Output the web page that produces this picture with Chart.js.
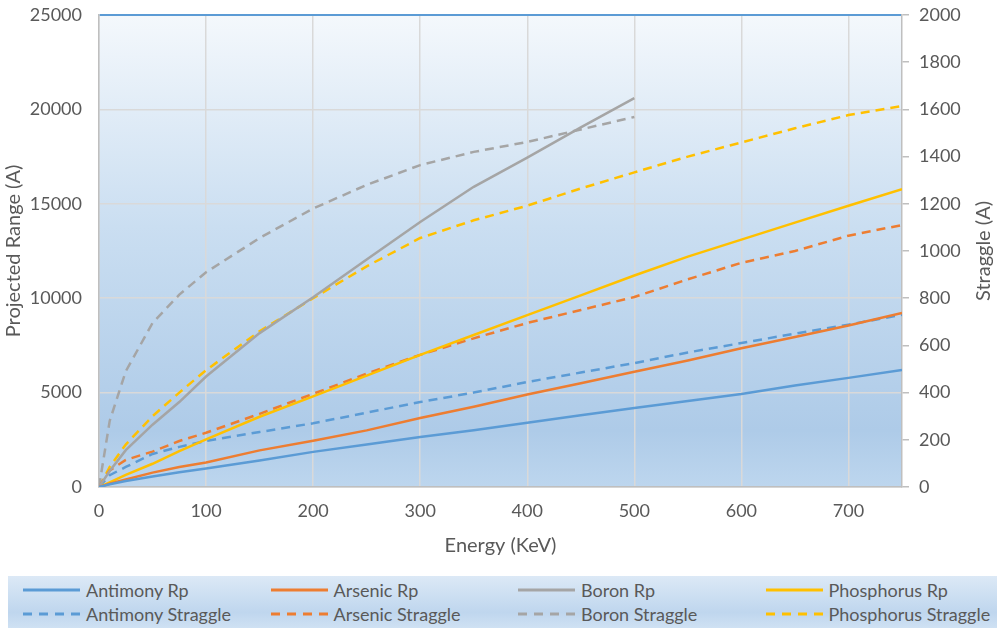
<!DOCTYPE html>
<html>
<head>
<meta charset="utf-8">
<script src="https://cdn.jsdelivr.net/npm/chart.js@4"></script>
<style>
  body { margin: 0; background: #fff; font-family: Lato, sans-serif; }
  #wrap { position: relative; width: 997px; height: 628px; }
  #chart { position: absolute; left: 0; top: 0; }
  #rightTitle {
    position: absolute; left: 982px; top: 251px; white-space: nowrap;
    transform: translate(-50%, -50%) rotate(-90deg);
    color: #595959; font-size: 20px;
  }
  #legend {
    position: absolute; left: 8px; top: 576px; width: 989px; height: 52px;
    background: linear-gradient(#dce9f6, #bfd6ee 70%, #cfe1f3);
    display: grid; grid-template-columns: repeat(4, 247.5px); grid-template-rows: 24px 24px;
    padding-top: 2px; box-sizing: border-box;
  }
  .item { display: flex; align-items: center; color: #595959; font-size: 18px; }
  .item svg { margin-left: 15px; margin-right: 6px; }
</style>
</head>
<body>
<div id="wrap">
  <canvas id="chart" width="997" height="570"></canvas>
  <div id="rightTitle">Straggle (A)</div>
  <div id="legend"></div>
</div>
<script>
// Data Setup
const energy = [0, 10, 25, 50, 75, 100, 150, 200, 250, 300, 350, 400, 450, 500, 550, 600, 650, 700, 750];
const boronEnergy = [0, 10, 25, 50, 75, 100, 150, 200, 250, 300, 350, 400, 450, 500];

const antimonyRp = [0, 150, 320, 560, 780, 980, 1400, 1860, 2250, 2650, 3000, 3400, 3800, 4180, 4550, 4930, 5380, 5780, 6200];
const arsenicRp = [0, 170, 400, 760, 1060, 1300, 1940, 2450, 3000, 3650, 4250, 4900, 5500, 6100, 6700, 7350, 7950, 8550, 9220];
const boronRp = [0, 850, 1950, 3300, 4500, 5850, 8150, 10050, 12050, 14040, 15900, 17450, 19050, 20600];
const phosphorusRp = [0, 250, 640, 1230, 1900, 2520, 3720, 4800, 5900, 7000, 8050, 9100, 10150, 11200, 12200, 13100, 14000, 14900, 15780];

const antimonyStraggle = [0, 50, 85, 140, 170, 195, 233, 270, 315, 360, 400, 445, 485, 525, 570, 610, 650, 688, 730];
const arsenicStraggle = [0, 70, 115, 150, 195, 230, 310, 395, 480, 560, 630, 695, 750, 805, 880, 950, 1000, 1065, 1110];
const boronStraggle = [0, 280, 490, 695, 815, 910, 1055, 1180, 1280, 1364, 1420, 1462, 1515, 1568];
const phosphorusStraggle = [0, 85, 180, 300, 400, 495, 660, 800, 935, 1055, 1130, 1192, 1265, 1333, 1400, 1460, 1520, 1576, 1614];

const energyTicks = [0, 100, 200, 300, 400, 500, 600, 700];
const rangeTicks = [0, 5000, 10000, 15000, 20000, 25000];
const straggleTicks = [0, 200, 400, 600, 800, 1000, 1200, 1400, 1600, 1800, 2000];

const colors = { antimony: '#5b9bd5', arsenic: '#ed7d31', boron: '#a5a5a5', phosphorus: '#ffc000' };
const dash = [9, 6];

function pts(xs, ys) { return xs.map((x, i) => ({ x: x, y: ys[i] })); }
function series(label, xs, ys, color, axis, dashed) {
	return {
		label: label, data: pts(xs, ys), yAxisID: axis,
		borderColor: color, backgroundColor: color, borderWidth: 2.5,
		borderDash: dashed ? dash : [], showLine: true, pointRadius: 0, tension: 0
	};
}

const datasets = [
	series('Antimony Rp', energy, antimonyRp, colors.antimony, 'y', false),
	series('Arsenic Rp', energy, arsenicRp, colors.arsenic, 'y', false),
	series('Boron Rp', boronEnergy, boronRp, colors.boron, 'y', false),
	series('Phosphorus Rp', energy, phosphorusRp, colors.phosphorus, 'y', false),
	series('Antimony Straggle', energy, antimonyStraggle, colors.antimony, 'y2', true),
	series('Arsenic Straggle', energy, arsenicStraggle, colors.arsenic, 'y2', true),
	series('Boron Straggle', boronEnergy, boronStraggle, colors.boron, 'y2', true),
	series('Phosphorus Straggle', energy, phosphorusStraggle, colors.phosphorus, 'y2', true)
];

// plot area gradient
const plotBg = {
	id: 'plotBg',
	beforeDraw(chart) {
		const { ctx, chartArea: a } = chart;
		const g = ctx.createLinearGradient(0, a.top, 0, a.bottom);
		g.addColorStop(0, '#f4f8fc');
		g.addColorStop(0.45, '#cadef1');
		g.addColorStop(0.88, '#aecbe8');
		g.addColorStop(1, '#bdd6ee');
		ctx.save();
		ctx.fillStyle = g;
		ctx.fillRect(a.left, a.top, a.right - a.left, a.bottom - a.top);
		ctx.restore();
	}
};

const tickFont = { family: 'Lato', size: 18 };
const titleFont = { family: 'Lato', size: 20 };
const textColor = '#595959';
const plain = v => String(v);
const fixTicks = list => s => { s.ticks = list.map(v => ({ value: v })); };
const fitY = w => s => { s.width = w; s.paddingTop = 0; s.paddingBottom = 0; };

const ctx = document.getElementById('chart').getContext('2d');
const chart = new Chart(ctx, {
	type: 'scatter',
	data: { datasets: datasets },
	plugins: [plotBg],
	options: {
		responsive: false,
		animation: false,
		layout: { padding: { top: 15, left: 0, right: 0, bottom: 0 } },
		plugins: { legend: { display: false }, tooltip: { enabled: false } },
		scales: {
			x: {
				type: 'linear', min: 0, max: 750,
				afterBuildTicks: fixTicks(energyTicks),
				afterFit: s => { s.height = 83; s.paddingLeft = 0; s.paddingRight = 0; },
				ticks: { font: tickFont, color: textColor, padding: 13, maxRotation: 0, callback: plain },
				grid: { color: '#d9d9d9', lineWidth: 1.5, drawTicks: false },
				border: { color: '#bfbfbf', width: 1.5 },
				title: { display: true, text: 'Energy (KeV)', font: titleFont, color: textColor, padding: { bottom: 12 } }
			},
			y: {
				position: 'left', min: 0, max: 25000,
				afterBuildTicks: fixTicks(rangeTicks),
				afterFit: fitY(99),
				ticks: { font: tickFont, color: textColor, padding: 17, callback: plain },
				grid: {
					color: c => c.tick && c.tick.value === 25000 ? '#5b9bd5' : '#d9d9d9',
					lineWidth: c => c.tick && c.tick.value === 25000 ? 2 : 1.5,
					drawTicks: false
				},
				border: { color: '#bfbfbf', width: 1.5 },
				title: { display: true, text: 'Projected Range (A)', font: titleFont, color: textColor, padding: { top: 2 } }
			},
			y2: {
				position: 'right', min: 0, max: 2000,
				afterBuildTicks: fixTicks(straggleTicks),
				afterFit: fitY(95),
				ticks: { font: tickFont, color: textColor, padding: 10, callback: plain },
				grid: { drawOnChartArea: false, color: '#bfbfbf', tickLength: 7, lineWidth: 1.5 },
				border: { color: '#bfbfbf', width: 1.5 }
			}
		}
	}
});

// HTML legend, Rp row first then Straggle row
const legend = document.getElementById('legend');
datasets.forEach(d => {
	const el = document.createElement('div');
	el.className = 'item';
	const dashAttr = d.borderDash.length ? 'stroke-dasharray="9,7"' : '';
	el.innerHTML = '<svg width="57" height="6"><line x1="0" y1="3" x2="57" y2="3" stroke="' + d.borderColor +
		'" stroke-width="3" ' + dashAttr + '/></svg><span>' + d.label + '</span>';
	legend.appendChild(el);
});
</script>
</body>
</html>
